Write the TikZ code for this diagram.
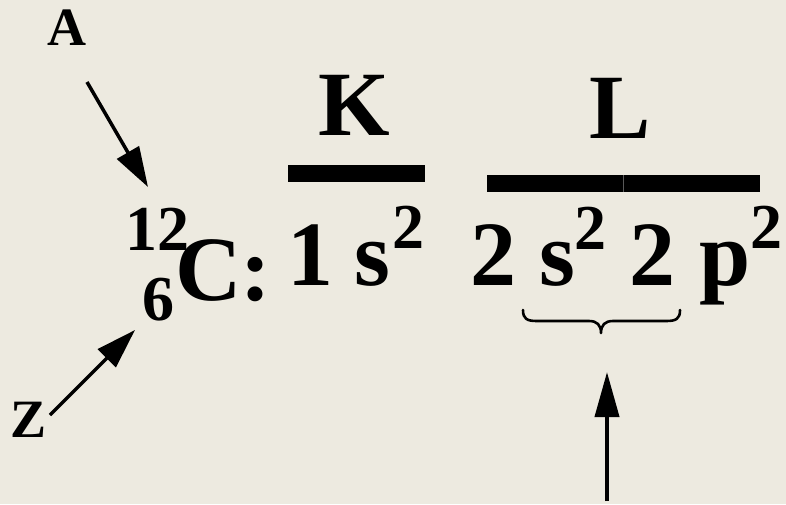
\documentclass[tikz,border=0pt]{standalone}
\usepackage{fontspec}
\setmainfont{Liberation Serif}
\usetikzlibrary{arrows.meta}
\definecolor{bg}{RGB}{237,234,224}
\tikzset{
  big/.style={inner sep=0pt, anchor=base, font=\bfseries\fontsize{92}{100}\selectfont},
  sup/.style={inner sep=0pt, anchor=base, font=\bfseries\fontsize{64}{70}\selectfont},
  small/.style={inner sep=0pt, anchor=base, font=\bfseries\fontsize{54}{60}\selectfont},
  arr/.style={line width=3.5pt, -{Triangle[length=40pt,width=25pt]}},
  bar/.style={fill=black, draw=none},
}
\begin{document}
\begin{tikzpicture}[x=1pt,y=-1pt]
\fill[bg] (0,0) rectangle (786,504);
\useasboundingbox (0,0) rectangle (786,504);
% labels
\node[small] (A) at (67,45) {A};
\node[small] (Z) at (29,437) {Z};
\node[big] (K) at (354,135) {K};
\node[big] (L) at (620,138) {L};
% isotope
\node[sup] (mass) at (157,250) {12};
\node[sup] (num) at (158,320) {6};
\node[big] (C) at (209,300) {C};
\node[big] (colon) at (256,300) {:};
% configuration
\node[big] (n1) at (310,285) {1};
\node[big] (s1) at (372,285) {s};
\node[sup] (e1) at (408,248) {2};
\node[big] (n2) at (493,285) {2};
\node[big] (s2) at (557,285) {s};
\node[sup] (e2) at (590,249) {2};
\node[big] (n3) at (652,285) {2};
\node[big] (p2) at (725,285) {p};
\node[sup] (e3) at (766,248) {2};
% bars
\fill[bar] (288,165) rectangle (425,182);
\fill[bar] (487,175) rectangle (623,192);
\fill[bar] (623,175) rectangle (760,192);
\draw[line width=0.6pt, gray!70!black] (623,175) -- (623,192);
% arrows
\coordinate (a0) at (87,82);
\coordinate (a1) at (148,187);
\draw[arr] (a0) -- (a1);
\coordinate (z0) at (50,415);
\coordinate (z1) at (135,330);
\draw[arr, -{Triangle[length=40pt,width=25pt]}] (z0) -- (z1);
\coordinate (u0) at (607,501);
\coordinate (u1) at (607,372);
\draw[line width=4pt, -{Triangle[length=45pt,width=24pt]}] (u0) -- (u1);
% brace
\draw[line width=2.6pt, line cap=round, line join=round]
  (523,310) .. controls (523,319) and (527,321) .. (537,321)
  -- (589,321) .. controls (597,321) and (601,325) .. (601,333)
  .. controls (601,325) and (605,321) .. (613,321)
  -- (666,321) .. controls (676,321) and (680,319) .. (680,310);
\end{tikzpicture}
\end{document}
